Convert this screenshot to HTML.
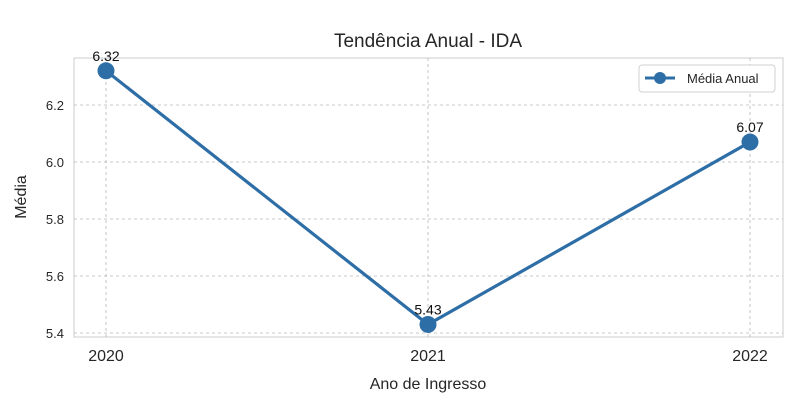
<!DOCTYPE html>
<html><head><meta charset="utf-8"><style>
html,body{margin:0;padding:0;background:#fff;}
svg{display:block;font-family:"Liberation Sans",Arial,sans-serif;}
</style></head><body>
<svg id="chart" width="806" height="403">
  <text x="428" y="47" font-size="19" text-anchor="middle" fill="#262626">Tendência Anual - IDA</text>
  <rect x="74" y="58" width="709" height="279" fill="none" stroke="#cccccc" stroke-width="1"/>
  <g id="grid"></g>
  <g id="yticks"></g>
  <g id="xticks"></g>
  <g id="series"></g>
  <text x="428" y="389" font-size="16" text-anchor="middle" fill="#262626">Ano de Ingresso</text>
  <text transform="translate(26,197) rotate(-90)" font-size="16" text-anchor="middle" fill="#262626">Média</text>
  <g>
    <rect x="639" y="65" width="136" height="27" rx="3" fill="#fff" stroke="#d0d0d0"/>
    <line x1="645" y1="78" x2="675" y2="78" stroke="#2e6ea6" stroke-width="3"/>
    <circle cx="660" cy="78" r="6" fill="#2e6ea6"/>
    <text x="687" y="83" font-size="13" fill="#262626">Média Anual</text>
  </g>
</svg>
<script>
const categories = ["2020","2021","2022"];
const values = [6.32, 5.43, 6.07];
const valueLabels = ["6.32","5.43","6.07"];
const yTicks = [5.4, 5.6, 5.8, 6.0, 6.2];
const yTickLabels = ["5.4","5.6","5.8","6.0","6.2"];
const NS = "http://www.w3.org/2000/svg";
function xScale(i){ return 106 + i * 322; }
function yScale(v){ return 162 - (v - 6.0) * 285; }
function mk(tag, attrs, parent){ const e=document.createElementNS(NS,tag); for(const k in attrs) e.setAttribute(k,attrs[k]); parent.appendChild(e); return e; }
const grid=document.getElementById('grid'), yt=document.getElementById('yticks'), xt=document.getElementById('xticks'), ser=document.getElementById('series');
yTicks.forEach((t,i)=>{
  const y=yScale(t);
  const l=mk('line',{x1:74,x2:783,y1:y,y2:y,stroke:'#b8b8b8','stroke-dasharray':'3,3','stroke-width':0.8},grid);
  
  
  const tx=mk('text',{x:64,y:y+5,'font-size':13,'text-anchor':'end',fill:'#262626'},yt);
  tx.textContent=yTickLabels[i];
  
  
});
categories.forEach((c,i)=>{
  const x=xScale(i);
  const l=mk('line',{x1:x,x2:x,y1:58,y2:337,stroke:'#b8b8b8','stroke-dasharray':'3,3','stroke-width':0.8},grid);
  
  
  const tx=mk('text',{x:x,y:361,'font-size':16,'text-anchor':'middle',fill:'#262626'},xt);
  tx.textContent=c;
  
  
});
const pts=values.map((v,i)=>xScale(i)+','+yScale(v)).join(' ');
const pl=mk('polyline',{points:pts,fill:'none',stroke:'#2e6ea6','stroke-width':3.2,'stroke-linejoin':'round'},ser);


values.forEach((v,i)=>{
  const c=mk('circle',{cx:xScale(i),cy:yScale(v),r:8.5,fill:'#2e6ea6'},ser);
  
  
  const t=mk('text',{x:xScale(i),y:yScale(v)-10,'font-size':14,'text-anchor':'middle',fill:'#111'},ser);
  t.textContent=valueLabels[i];
  
  
});
</script>
</body></html>
